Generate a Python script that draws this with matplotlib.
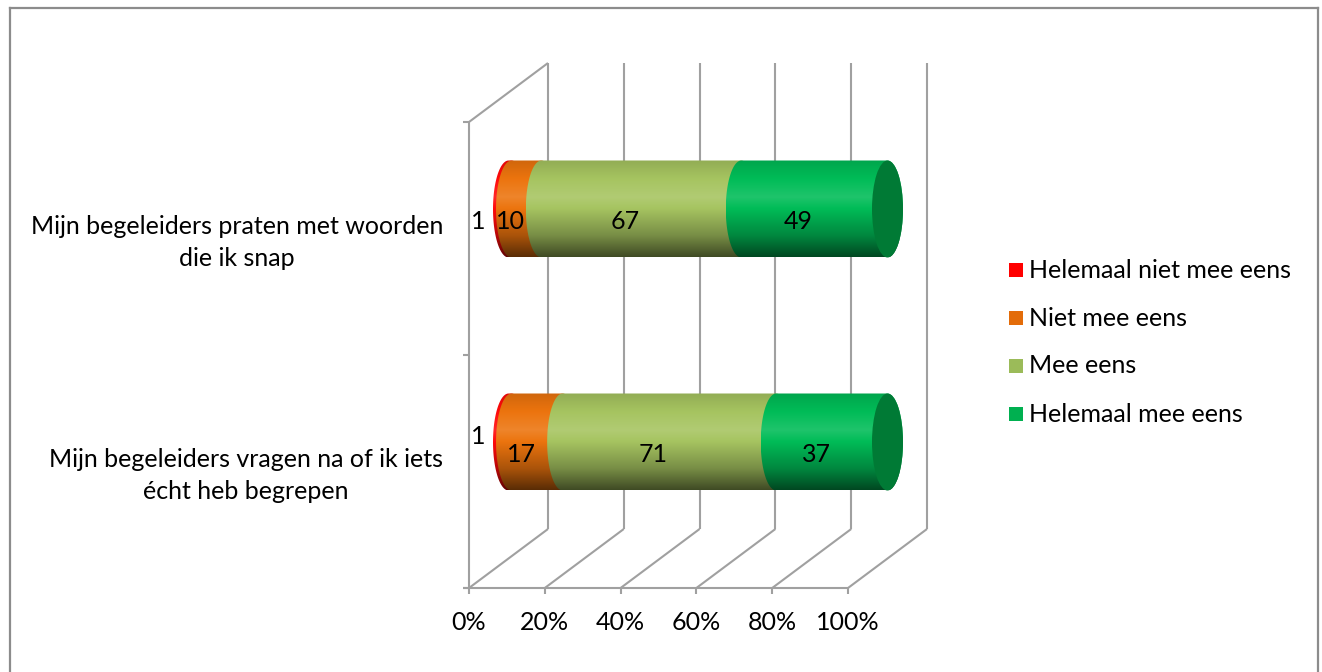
import numpy as np
import matplotlib
matplotlib.use("Agg")
import matplotlib.pyplot as plt
from matplotlib.patches import PathPatch, Rectangle, Ellipse
from matplotlib.path import Path
from matplotlib.lines import Line2D
from matplotlib.colors import to_rgb

plt.rcParams['font.family'] = ['Lato', 'DejaVu Sans']

# ---- data -------------------------------------------------------------
categories = [
    "Mijn begeleiders vragen na of ik iets\nécht heb begrepen",
    "Mijn begeleiders praten met woorden\ndie ik snap",
]
series_names = ["Helemaal niet mee eens", "Niet mee eens", "Mee eens", "Helemaal mee eens"]
helemaal_niet_mee_eens = [1, 1]
niet_mee_eens = [17, 10]
mee_eens = [71, 67]
helemaal_mee_eens = [37, 49]
x_ticks = [0, 20, 40, 60, 80, 100]
x_tick_labels = ["0%", "20%", "40%", "60%", "80%", "100%"]

series_values = [helemaal_niet_mee_eens, niet_mee_eens, mee_eens, helemaal_mee_eens]
legend_colors = ["#FF0000", "#E36C09", "#9BBB59", "#00B050"]
body_colors = ["#FF0A0A", "#EC740E", "#A6C460", "#00BC57"]
cap_color = "#007A35"

FS = 18

# ---- figure / projection setup -----------------------------------------
W, H = 1322, 672
fig = plt.figure(figsize=(W / 100, H / 100), dpi=100)
ax = fig.add_axes([0, 0, 1, 1])
ax.axis("off")

PX_X = 3.79          # pixels per percent
PX_Y = 233.0         # pixels per category
X0_PX, Y0_PX = 469, 588
XLIM = (-X0_PX / PX_X, (W - X0_PX) / PX_X)
YLIM = ((Y0_PX - H) / PX_Y, Y0_PX / PX_Y)

DX = 79 / PX_X       # depth offset (percent units)
DY = 59 / PX_Y       # depth offset (category units)
n_cat = len(categories)

grid_kw = dict(color="#A0A0A0", lw=1.5, solid_capstyle="butt", zorder=1)

# back wall verticals and floor diagonals
for t in x_ticks:
    ax.plot([t + DX, t + DX], [DY, n_cat + DY], **grid_kw)
    ax.plot([t, t + DX], [0, DY], **grid_kw)
    ax.plot([t, t], [0, -6 / PX_Y], **grid_kw)
# front floor edge and left wall
ax.plot([-6 / PX_X, 100], [0, 0], **grid_kw)
ax.plot([0, 0], [0, n_cat], **grid_kw)
ax.plot([0, DX], [n_cat, n_cat + DY], **grid_kw)
for k in range(n_cat + 1):
    ax.plot([-6 / PX_X, 0], [k, k], **grid_kw)

for t, lab in zip(x_ticks, x_tick_labels):
    ax.text(t, -34 / PX_Y, lab, ha="center", va="center", fontsize=FS, color="black")

for i, cat in enumerate(categories):
    ax.text(-26 / PX_X, i + 0.5 - 4 / PX_Y, cat, ha="right", va="center", multialignment="center",
            fontsize=FS, color="black", linespacing=1.45)

# ---- cylinders ---------------------------------------------------------
HALF_H = 48.5 / PX_Y      # cylinder radius (vertical)
CAP_A = 15.5 / PX_X       # projected end-cap half-width


def shade(base, n=200):
    base = np.array(to_rgb(base))
    t = np.linspace(0, 1, n)
    f = np.interp(t, [0, 0.38, 0.78, 1.0], [0.88, 1.12, 0.72, 0.38])
    rows = []
    for v in f:
        if v >= 1:
            rows.append(base + (1 - base) * (v - 1))
        else:
            rows.append(base * v)
    return np.clip(np.array(rows), 0, 1)[:, None, :]


def segment_path(x0, x1, yc):
    th_l = np.linspace(np.pi / 2, 3 * np.pi / 2, 60)
    th_r = np.linspace(-np.pi / 2, np.pi / 2, 60)
    xs = np.concatenate([x0 + CAP_A * np.cos(th_l), x1 + CAP_A * np.cos(th_r)])
    ys = np.concatenate([yc + HALF_H * np.sin(th_l), yc + HALF_H * np.sin(th_r)])
    verts = np.column_stack([xs, ys])
    verts = np.vstack([verts, verts[:1]])
    codes = [Path.MOVETO] + [Path.LINETO] * (len(verts) - 2) + [Path.CLOSEPOLY]
    return Path(verts, codes)


LABEL_FRAC = 0.2
for i in range(n_cat):
    vals = np.array([s[i] for s in series_values], dtype=float)
    pct = vals / vals.sum() * 100
    edges = np.concatenate([[0], np.cumsum(pct)])
    yc = i + 0.5 + DY / 2
    for j in range(len(series_values)):
        x0 = edges[j] + DX / 2
        x1 = edges[j + 1] + DX / 2
        patch = PathPatch(segment_path(x0, x1, yc), facecolor="none", edgecolor="none",
                          zorder=3 + j)
        ax.add_patch(patch)
        im = ax.imshow(shade(body_colors[j]), extent=(x0 - CAP_A, x1 + CAP_A, yc - HALF_H, yc + HALF_H),
                       aspect="auto", origin="upper", zorder=3 + j, interpolation="bilinear")
        im.set_clip_path(patch)
    # visible end cap
    ax.add_patch(Ellipse((edges[-1] + DX / 2, yc), 2 * CAP_A, 2 * HALF_H,
                         facecolor=cap_color, edgecolor="none", zorder=8))

    # value labels on the front surface of the cylinder
    lx_off = -LABEL_FRAC * DX
    ly_off = -LABEL_FRAC * DY * 1.1
    for j in range(len(series_values)):
        mid = (edges[j] + edges[j + 1]) / 2 + DX / 2
        if pct[j] < 3:
            lx = DX / 2 - CAP_A - 4.0
            ly = yc + ly_off + (18 / PX_Y if i == 0 else 0)
        else:
            lx = mid + lx_off
            ly = yc + ly_off
        ax.text(lx, ly, f"{int(vals[j])}", ha="center", va="center", fontsize=FS,
                color="black", zorder=10)

ax.set_xlim(*XLIM)
ax.set_ylim(*YLIM)

# ---- legend ------------------------------------------------------------
leg_rows = [270, 318, 366, 414]
for name, col, yp in zip(series_names, legend_colors, leg_rows):
    fig.add_artist(Rectangle((1009 / W, 1 - (yp + 7) / H), 14 / W, 14 / H,
                             transform=fig.transFigure, facecolor=col, edgecolor="none"))
    fig.text(1029 / W, 1 - yp / H, name, ha="left", va="center", fontsize=FS, color="black")

# ---- chart frame -------------------------------------------------------
frame_kw = dict(color="#8C8C8C", lw=1.6, transform=fig.transFigure)
fig.add_artist(Line2D([9.5 / W, 9.5 / W], [-0.01, 1 - 7.5 / H], **frame_kw))
fig.add_artist(Line2D([1317.5 / W, 1317.5 / W], [-0.01, 1 - 7.5 / H], **frame_kw))
fig.add_artist(Line2D([9.5 / W, 1317.5 / W], [1 - 7.5 / H, 1 - 7.5 / H], **frame_kw))

fig.savefig("out.png", dpi=100, facecolor="white")
